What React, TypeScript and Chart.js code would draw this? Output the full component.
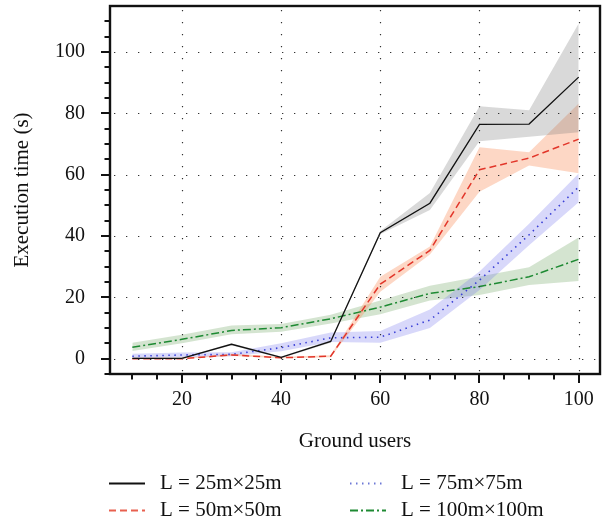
import { useEffect, useRef } from 'react';
import { Chart, registerables } from 'chart.js';

Chart.register(...registerables);

// Number of ground users on the x axis
const groundUsers = [10, 20, 30, 40, 50, 60, 70, 80, 90, 100];

// Mean execution time (s) and its spread for each area size L
const time25 = [0.1, 0.1, 4.7, 0.4, 5.6, 41.1, 50.7, 76.4, 76.5, 91.8];
const time25Hi = [0.3, 0.3, 5.0, 0.7, 6.0, 41.6, 54.0, 82.3, 81.0, 109.3];
const time25Lo = [0.0, 0.0, 4.4, 0.1, 5.2, 40.6, 48.5, 70.9, 72.4, 73.8];

const time50 = [0.0, 0.0, 1.2, 0.3, 0.8, 24.3, 35.3, 61.6, 65.4, 71.6];
const time50Hi = [0.3, 0.3, 1.6, 0.6, 1.1, 26.7, 36.6, 68.9, 67.3, 83.2];
const time50Lo = [0.0, 0.0, 0.9, 0.1, 0.5, 21.8, 34.0, 54.4, 63.0, 60.5];

const time75 = [0.8, 1.2, 1.4, 3.6, 6.8, 7.0, 12.6, 25.6, 40.4, 56.0];
const time75Hi = [1.6, 2.0, 2.1, 5.0, 8.5, 9.0, 16.0, 28.4, 44.0, 60.4];
const time75Lo = [0.1, 0.5, 0.8, 2.4, 5.4, 5.2, 10.0, 22.4, 37.0, 51.0];

const time100 = [3.7, 6.3, 9.2, 10.1, 13.0, 16.8, 21.3, 23.5, 26.7, 32.4];
const time100Hi = [5.2, 7.8, 10.8, 11.3, 14.3, 19.0, 23.8, 26.8, 29.8, 39.5];
const time100Lo = [2.5, 5.0, 8.0, 8.8, 11.5, 14.5, 19.0, 20.8, 24.0, 25.3];

const seriesLabels = ['L = 25m×25m', 'L = 50m×50m', 'L = 75m×75m', 'L = 100m×100m'];

// Axis ticks: minor marks every 5, labels and dotted grid on the majors
const xTickValues = [10, 15, 20, 25, 30, 35, 40, 45, 50, 55, 60, 65, 70, 75, 80, 85, 90, 95, 100];
const xMajorValues = [20, 40, 60, 80, 100];
const yTickValues = [-5, 0, 5, 10, 15, 20, 25, 30, 35, 40, 45, 50, 55, 60, 65, 70, 75, 80, 85, 90, 95, 100, 105, 110];
const yMajorValues = [0, 20, 40, 60, 80, 100];

const FONT = "'Liberation Serif', 'Times New Roman', serif";

type Series = {
  label: string;
  mean: number[];
  hi: number[];
  lo: number[];
  line: string;
  band: string;
  dash: number[];
  width: number;
  legendColor: string;
};

const series: Series[] = [
  { label: seriesLabels[0], mean: time25, hi: time25Hi, lo: time25Lo, line: '#111111', band: 'rgba(120,120,120,0.28)', dash: [], width: 1.3, legendColor: '#111111' },
  { label: seriesLabels[1], mean: time50, hi: time50Hi, lo: time50Lo, line: '#e2362a', band: 'rgba(250,140,90,0.35)', dash: [7, 4], width: 1.5, legendColor: '#e8604f' },
  { label: seriesLabels[2], mean: time75, hi: time75Hi, lo: time75Lo, line: '#3a40d6', band: 'rgba(110,110,235,0.27)', dash: [1.5, 4.5], width: 1.6, legendColor: '#6d78d6' },
  { label: seriesLabels[3], mean: time100, hi: time100Hi, lo: time100Lo, line: '#1e8a33', band: 'rgba(60,130,40,0.22)', dash: [8, 3, 2, 3], width: 1.5, legendColor: '#1e8a33' },
];

const toPoints = (values: number[]) => groundUsers.map((u, i) => ({ x: u, y: values[i] }));

const frameAndLegend = {
  id: 'frameAndLegend',
  afterDatasetsDraw(chart: any) {
    const { ctx, chartArea: a, scales } = chart;
    const xs = scales.x;
    const ys = scales.y;
    ctx.save();

    // dotted grid on the major values
    ctx.strokeStyle = '#333333';
    ctx.lineWidth = 1.2;
    ctx.setLineDash([1.3, 10.7]);
    ctx.beginPath();
    for (const v of xMajorValues) {
      const px = Math.round(xs.getPixelForValue(v)) + 0.5;
      ctx.moveTo(px, a.top + 4);
      ctx.lineTo(px, a.bottom);
    }
    for (const v of yMajorValues) {
      const py = Math.round(ys.getPixelForValue(v)) + 0.5;
      ctx.moveTo(a.left + 4, py);
      ctx.lineTo(a.right, py);
    }
    ctx.stroke();
    ctx.setLineDash([]);

    // plot frame
    ctx.strokeStyle = '#111111';
    ctx.lineWidth = 2.4;
    ctx.strokeRect(a.left, a.top, a.right - a.left, a.bottom - a.top);

    // outward tick marks
    ctx.lineWidth = 2;
    ctx.beginPath();
    for (const v of xTickValues) {
      const px = Math.round(xs.getPixelForValue(v));
      const len = xMajorValues.includes(v) ? 9 : 5.5;
      ctx.moveTo(px, a.bottom);
      ctx.lineTo(px, a.bottom + len);
    }
    for (const v of yTickValues) {
      const py = Math.round(ys.getPixelForValue(v));
      const len = yMajorValues.includes(v) ? 9 : 5.5;
      ctx.moveTo(a.left, py);
      ctx.lineTo(a.left - len, py);
    }
    ctx.stroke();
    ctx.restore();
  },
  afterDraw(chart: any) {
    const { ctx, chartArea: a } = chart;
    ctx.save();
    ctx.font = `21px ${FONT}`;
    ctx.textBaseline = 'middle';
    ctx.fillStyle = '#111111';
    const colX = [a.left - 1, a.left + 240];
    const rowY = [483.5, 510.5];
    series.forEach((s, i) => {
      const col = Math.floor(i / 2);
      const row = i % 2;
      const x0 = colX[col];
      const y0 = rowY[row];
      ctx.strokeStyle = s.legendColor;
      ctx.lineWidth = i === 0 ? 2.2 : 1.8;
      ctx.setLineDash(s.dash);
      ctx.beginPath();
      ctx.moveTo(x0, y0);
      ctx.lineTo(x0 + 36, y0);
      ctx.stroke();
      ctx.setLineDash([]);
      ctx.fillText(s.label, x0 + 51, y0);
    });
    ctx.restore();
  },
};

export default function App() {
  const canvasRef = useRef<HTMLCanvasElement | null>(null);

  useEffect(() => {
    const canvas = canvasRef.current;
    if (!canvas) return;

    const datasets: any[] = [];
    series.forEach((s) => {
      datasets.push({
        label: `${s.label} upper`,
        data: toPoints(s.hi),
        borderWidth: 0,
        borderColor: 'rgba(0,0,0,0)',
        backgroundColor: s.band,
        pointRadius: 0,
        fill: '+1',
      });
      datasets.push({
        label: `${s.label} lower`,
        data: toPoints(s.lo),
        borderWidth: 0,
        borderColor: 'rgba(0,0,0,0)',
        pointRadius: 0,
        fill: false,
      });
      datasets.push({
        label: s.label,
        data: toPoints(s.mean),
        borderColor: s.line,
        borderWidth: s.width,
        borderDash: s.dash,
        pointRadius: 0,
        fill: false,
        tension: 0,
      });
    });

    const tickFont = { family: FONT, size: 20 };
    const titleFont = { family: FONT, size: 21 };

    const chart = new Chart(canvas, {
      type: 'line',
      data: { datasets },
      options: {
        animation: false,
        responsive: false,
        devicePixelRatio: 1,
        layout: { padding: { top: 6, right: 7, left: 0, bottom: 0 } },
        plugins: {
          legend: { display: false },
          tooltip: { enabled: false },
          filler: { drawTime: 'beforeDatasetsDraw' },
        },
        scales: {
          x: {
            type: 'linear',
            min: 5.5,
            max: 104.3,
            grid: { display: false },
            border: { display: false },
            ticks: {
              font: tickFont,
              color: '#111111',
              padding: 6,
              maxRotation: 0,
              autoSkip: false,
            },
            afterBuildTicks: (scale: any) => {
              scale.ticks = xMajorValues.map((v) => ({ value: v }));
            },
            title: {
              display: true,
              text: 'Ground users',
              font: titleFont,
              color: '#111111',
              padding: { top: 0, bottom: 68 },
            },
            afterFit: (scale: any) => {
              scale.height = 148;
              scale.paddingLeft = 0;
              scale.paddingRight = 0;
            },
          },
          y: {
            type: 'linear',
            min: -5,
            max: 115,
            grid: { display: false },
            border: { display: false },
            ticks: {
              font: tickFont,
              color: '#111111',
              padding: 17,
              autoSkip: false,
            },
            afterBuildTicks: (scale: any) => {
              scale.ticks = yMajorValues.map((v) => ({ value: v }));
            },
            title: {
              display: true,
              text: 'Execution time (s)',
              font: titleFont,
              color: '#111111',
              padding: { top: 10, bottom: 0 },
            },
            afterFit: (scale: any) => {
              scale.width = 110;
              scale.paddingTop = 0;
              scale.paddingBottom = 0;
            },
          },
        },
      },
      plugins: [frameAndLegend],
    });

    return () => chart.destroy();
  }, []);

  return (
    <div style={{ position: 'absolute', left: 0, top: 0, width: 607, height: 522, background: '#ffffff' }}>
      <canvas ref={canvasRef} width={607} height={522} />
    </div>
  );
}
